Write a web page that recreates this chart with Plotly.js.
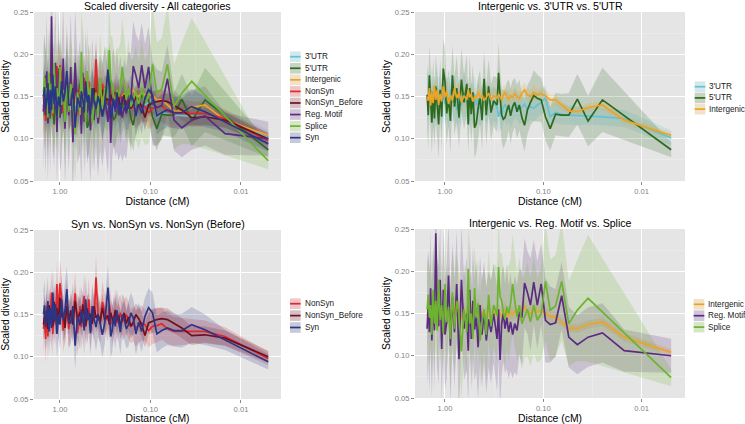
<!DOCTYPE html>
<html><head><meta charset="utf-8">
<script src="https://cdn.plot.ly/plotly-3.0.1.min.js"></script>
<style>html,body{margin:0;padding:0;background:#fff}#chart{width:745px;height:424px}</style>
</head><body><div id="chart"></div>
<script>
// ---- data ----
const distance = [0.005,0.015,0.025,0.035,0.045,0.055,0.065,0.075,0.085,0.095,
 0.105,0.115,0.125,0.135,0.145,0.155,0.165,0.175,0.185,0.195,
 0.205,0.215,0.225,0.235,0.245,0.255,0.265,0.275,0.285,0.295,
 0.32,0.34,0.36,0.38,0.40,0.42,0.44,0.46,0.48,0.50,
 0.52,0.54,0.56,0.58,0.60,0.64,0.68,0.72,0.76,0.80,
 0.84,0.88,0.92,0.96,1.00,1.04,1.08,1.12,1.16,1.20,
 1.24,1.28,1.32,1.36,1.40,1.44,1.48,1.52];

const categories = ["3'UTR","5'UTR","Intergenic","NonSyn","NonSyn_Before","Reg. Motif","Splice","Syn"];

const utr3 = [0.101,0.124,0.126,0.127,0.127,0.128,0.129,0.131,0.126,0.148,
 0.143,0.140,0.136,0.138,0.135,0.141,0.137,0.134,0.139,0.142,
 0.136,0.131,0.138,0.135,0.141,0.137,0.129,0.133,0.126,0.138,
 0.142,0.136,0.146,0.139,0.150,0.141,0.135,0.147,0.140,0.153,
 0.138,0.145,0.136,0.149,0.142,0.155,0.139,0.147,0.134,0.151,
 0.143,0.158,0.137,0.149,0.141,0.156,0.136,0.152,0.144,0.160,
 0.139,0.150,0.135,0.157,0.146,0.141,0.153,0.148];
const utr3_ci = [0.009,0.010,0.010,0.010,0.011,0.011,0.012,0.012,0.013,0.015,
 0.014,0.015,0.016,0.015,0.017,0.016,0.018,0.017,0.016,0.018,
 0.017,0.019,0.018,0.020,0.019,0.018,0.021,0.020,0.019,0.021,
 0.020,0.022,0.021,0.020,0.023,0.022,0.021,0.024,0.022,0.023,
 0.024,0.022,0.025,0.023,0.024,0.026,0.024,0.025,0.023,0.026,
 0.025,0.027,0.024,0.026,0.025,0.028,0.026,0.025,0.027,0.026,
 0.028,0.026,0.027,0.029,0.026,0.028,0.027,0.029];

const utr5 = [0.087,null,0.146,0.121,0.147,0.128,0.128,0.129,0.112,0.126,
 0.146,0.148,0.151,0.143,0.134,0.116,0.125,0.140,0.132,0.143,
 0.138,0.127,0.140,0.133,0.125,0.123,0.128,0.150,0.178,0.140,
 0.145,0.131,0.162,0.128,0.171,0.122,0.150,0.136,0.118,0.113,
 0.155,0.129,0.160,0.117,0.165,0.143,0.170,0.125,0.160,0.138,
 0.175,0.121,0.148,0.130,0.168,0.183,0.126,0.158,0.117,0.141,
 0.162,0.124,0.155,0.119,0.146,0.175,0.128,0.152];
const utr5_ci = [0.009,null,0.038,0.030,0.030,0.026,0.025,0.025,0.026,0.028,
 0.026,0.028,0.030,0.027,0.029,0.031,0.028,0.030,0.032,0.029,
 0.031,0.033,0.030,0.034,0.032,0.035,0.031,0.033,0.036,0.032,
 0.030,0.034,0.032,0.036,0.033,0.035,0.031,0.037,0.034,0.036,
 0.033,0.035,0.038,0.034,0.036,0.032,0.037,0.035,0.039,0.034,
 0.036,0.038,0.034,0.037,0.040,0.035,0.038,0.036,0.039,0.037,
 0.038,0.035,0.040,0.037,0.039,0.036,0.041,0.038];

const intergenic = [0.104,0.122,0.140,0.137,0.132,0.133,0.140,0.146,0.146,0.151,
 0.153,0.152,0.155,0.150,0.152,0.158,0.154,0.148,0.150,0.153,
 0.149,0.151,0.147,0.150,0.155,0.152,0.146,0.150,0.153,0.148,
 0.151,0.146,0.154,0.149,0.145,0.152,0.148,0.156,0.147,0.150,
 0.144,0.153,0.149,0.158,0.146,0.151,0.143,0.155,0.148,0.160,
 0.145,0.152,0.141,0.157,0.149,0.162,0.144,0.153,0.140,0.158,
 0.146,0.163,0.142,0.155,0.139,0.160,0.145,0.150];
const intergenic_ci = [0.004,0.005,0.005,0.005,0.005,0.005,0.005,0.006,0.006,0.007,
 0.008,0.007,0.009,0.008,0.007,0.009,0.008,0.008,0.007,0.009,
 0.008,0.009,0.010,0.008,0.009,0.010,0.009,0.008,0.010,0.009,
 0.010,0.009,0.011,0.010,0.009,0.011,0.010,0.012,0.010,0.011,
 0.011,0.010,0.012,0.011,0.010,0.012,0.011,0.013,0.011,0.012,
 0.012,0.011,0.013,0.012,0.011,0.013,0.012,0.013,0.012,0.014,
 0.013,0.012,0.014,0.013,0.012,0.014,0.013,0.014];

const nonsyn = [0.098,0.124,0.130,0.130,0.130,0.130,0.133,0.139,0.137,0.136,
 0.131,0.138,0.140,0.137,0.134,0.139,0.136,0.143,0.150,0.145,
 0.141,0.152,0.147,0.140,0.156,0.144,0.138,0.150,0.161,0.143,
 0.152,0.165,0.139,0.150,0.194,0.142,0.156,0.131,0.168,0.145,
 0.138,0.172,0.147,0.135,0.160,0.128,0.175,0.141,0.152,0.133,
 0.166,0.144,0.131,0.170,0.187,0.150,0.186,0.138,0.162,0.127,
 0.176,0.142,0.155,0.124,0.160,0.121,0.147,0.133];
const nonsyn_ci = [0.008,0.011,0.013,0.015,0.016,0.017,0.018,0.019,0.020,0.021,
 0.020,0.019,0.021,0.020,0.022,0.021,0.020,0.022,0.021,0.023,
 0.022,0.021,0.023,0.022,0.024,0.022,0.023,0.024,0.022,0.025,
 0.023,0.025,0.024,0.022,0.026,0.024,0.025,0.023,0.026,0.024,
 0.025,0.027,0.024,0.026,0.025,0.027,0.026,0.024,0.027,0.025,
 0.026,0.028,0.025,0.027,0.029,0.026,0.028,0.027,0.025,0.028,
 0.027,0.029,0.026,0.028,0.027,0.030,0.028,0.029];

const nonsynBefore = [0.100,0.122,0.126,0.125,0.134,0.140,0.144,0.145,0.144,0.142,
 0.140,0.125,0.138,0.145,0.150,0.141,0.136,0.147,0.139,0.152,
 0.144,0.137,0.149,0.143,0.155,0.140,0.146,0.152,0.138,0.149,
 0.143,0.158,0.141,0.150,0.146,0.160,0.139,0.151,0.144,0.157,
 0.136,0.149,0.162,0.140,0.153,0.145,0.166,0.138,0.155,0.142,
 0.160,0.134,0.151,0.147,0.170,0.139,0.158,0.143,0.165,0.136,
 0.152,0.147,0.161,0.133,0.155,0.144,0.150,0.138];
const nonsynBefore_ci = [0.007,0.009,0.010,0.011,0.012,0.012,0.013,0.013,0.014,0.014,
 0.013,0.014,0.015,0.014,0.013,0.015,0.014,0.016,0.015,0.014,
 0.015,0.016,0.014,0.015,0.017,0.016,0.015,0.016,0.017,0.015,
 0.016,0.017,0.015,0.016,0.018,0.017,0.016,0.017,0.018,0.016,
 0.017,0.018,0.016,0.017,0.019,0.018,0.017,0.018,0.019,0.017,
 0.018,0.019,0.017,0.018,0.020,0.018,0.019,0.018,0.020,0.019,
 0.019,0.020,0.018,0.019,0.021,0.019,0.020,0.019];

const regMotif = [0.100,0.106,0.127,0.122,0.113,0.122,0.171,0.139,0.137,0.142,
 0.185,0.160,0.187,0.160,0.175,0.186,0.145,0.152,0.130,0.138,
 0.125,0.140,0.128,0.145,0.132,0.150,0.138,0.095,0.155,0.120,
 0.150,0.128,0.143,0.118,0.152,0.125,0.160,0.110,0.147,0.131,
 0.165,0.120,0.178,0.106,0.150,0.132,0.190,0.096,0.185,0.128,
 0.170,0.112,0.195,0.140,0.125,0.178,0.108,0.190,0.135,0.150,
 0.245,0.130,0.168,0.118,0.180,0.128,0.160,0.132];
const regMotif_ci = [0.020,0.025,0.035,0.035,0.035,0.036,0.040,0.040,0.045,0.050,
 0.048,0.052,0.050,0.055,0.049,0.053,0.056,0.051,0.054,0.057,
 0.052,0.058,0.055,0.060,0.053,0.057,0.061,0.056,0.059,0.062,
 0.058,0.061,0.057,0.063,0.060,0.064,0.059,0.062,0.066,0.061,
 0.063,0.060,0.065,0.062,0.067,0.061,0.064,0.068,0.063,0.066,
 0.064,0.068,0.062,0.067,0.065,0.069,0.063,0.066,0.070,0.065,
 0.067,0.070,0.064,0.068,0.066,0.071,0.065,0.069];

const splice = [0.074,null,null,0.168,0.154,0.138,0.188,0.159,0.154,0.188,
 0.150,0.142,0.160,0.140,0.155,0.147,0.138,0.160,0.146,0.165,
 0.185,0.162,0.150,0.158,0.143,0.152,0.165,0.170,0.205,0.148,
 0.160,0.135,0.172,0.125,0.155,0.140,0.118,0.162,0.145,0.180,
 0.120,0.150,0.138,0.203,0.128,0.155,0.105,0.148,0.165,0.132,
 0.175,0.120,0.158,0.140,0.185,0.126,0.160,0.142,0.190,0.130,
 0.165,0.138,0.178,0.125,0.160,0.145,0.172,0.155];
const splice_ci = [0.010,null,null,0.075,0.060,0.050,0.070,0.060,0.060,0.070,
 0.055,0.050,0.058,0.052,0.056,0.049,0.054,0.057,0.051,0.055,
 0.058,0.052,0.056,0.050,0.055,0.053,0.057,0.051,0.054,0.056,
 0.050,0.054,0.052,0.056,0.049,0.053,0.055,0.051,0.054,0.052,
 0.055,0.050,0.053,0.057,0.051,0.054,0.056,0.052,0.055,0.053,
 0.052,0.056,0.050,0.054,0.057,0.051,0.055,0.053,0.056,0.052,
 0.054,0.057,0.051,0.055,0.053,0.056,0.052,0.055];

const syn = [0.094,0.120,0.132,0.138,0.131,0.131,0.134,0.131,0.127,0.152,
 0.158,0.148,0.130,0.141,0.127,0.146,0.152,0.138,0.133,0.145,
 0.150,0.129,0.142,0.155,0.136,0.147,0.131,0.124,0.158,0.182,
 0.140,0.126,0.140,0.150,0.135,0.145,0.160,0.128,0.152,0.143,
 0.168,0.131,0.147,0.156,0.137,0.149,0.113,0.160,0.140,0.140,
 0.180,0.155,0.144,0.168,0.138,0.150,0.127,0.162,0.141,0.176,
 0.134,0.158,0.130,0.166,0.145,0.135,0.161,0.150];
const syn_ci = [0.009,0.012,0.018,0.021,0.020,0.019,0.020,0.021,0.022,0.024,
 0.023,0.022,0.024,0.023,0.025,0.022,0.024,0.026,0.023,0.025,
 0.024,0.026,0.023,0.025,0.027,0.024,0.026,0.025,0.023,0.027,
 0.025,0.027,0.024,0.026,0.028,0.025,0.027,0.026,0.024,0.028,
 0.026,0.028,0.025,0.027,0.029,0.026,0.028,0.027,0.025,0.029,
 0.027,0.029,0.026,0.028,0.030,0.027,0.029,0.028,0.026,0.030,
 0.028,0.030,0.027,0.029,0.031,0.028,0.030,0.029];

const xTickVals = [1, 0.1, 0.01];
const xTickText = ['1.00', '0.10', '0.01'];
const yTickVals = [0.05, 0.10, 0.15, 0.20, 0.25];
const yTickText = ['0.05', '0.10', '0.15', '0.20', '0.25'];

const panelTitles = ['Scaled diversity - All categories', "Intergenic vs. 3'UTR vs. 5'UTR",
  'Syn vs. NonSyn vs. NonSyn (Before)', 'Intergenic vs. Reg. Motif vs. Splice'];
const panelSeries = [categories, ["3'UTR","5'UTR","Intergenic"],
  ['NonSyn','NonSyn_Before','Syn'], ['Intergenic','Reg. Motif','Splice']];

// ---- styling ----
const values = {"3'UTR":[utr3,utr3_ci], "5'UTR":[utr5,utr5_ci], 'Intergenic':[intergenic,intergenic_ci],
  'NonSyn':[nonsyn,nonsyn_ci], 'NonSyn_Before':[nonsynBefore,nonsynBefore_ci],
  'Reg. Motif':[regMotif,regMotif_ci], 'Splice':[splice,splice_ci], 'Syn':[syn,syn_ci]};
const colors = {"3'UTR":[98,195,214], "5'UTR":[45,106,31], 'Intergenic':[235,164,39], 'NonSyn':[227,38,44],
  'NonSyn_Before':[110,16,32], 'Reg. Motif':[92,43,127], 'Splice':[108,180,47], 'Syn':[43,53,133]};
const rgb = c => `rgb(${c[0]},${c[1]},${c[2]})`;
const rgba = (c,a) => `rgba(${c[0]},${c[1]},${c[2]},${a})`;

const W = 745, H = 424;
const FONT = 'Liberation Sans, Arial, Helvetica, sans-serif';
// pixel boxes of the four panels [x0,x1,y0,y1] (y from top) and x range (log units)
const boxes = [[34,281,12,181],[415,685,12,181],[34,281,230,399],[415,685,229,398]];
const xRanges = [[0.287,-2.442],[0.305,-2.442],[0.287,-2.442],[0.305,-2.442]];
const legendPos = [[290,56.7,11.57],[694.7,86.7,11.2],[290,303.7,11.9],[693.7,304.3,11.4]];

const traces = [];
const layout = {
  width: W, height: H, margin: {l:0,r:0,t:0,b:0},
  paper_bgcolor: '#ffffff', plot_bgcolor: '#e5e5e5',
  font: {family: FONT, size: 8.2, color: '#1a1a1a'},
  showlegend: false, annotations: [], shapes: []
};

boxes.forEach((b, k) => {
  const n = k + 1, sfx = k === 0 ? '' : String(n);
  const xa = 'xaxis' + sfx, ya = 'yaxis' + sfx;
  layout[xa] = {
    domain: [b[0]/W, b[1]/W], anchor: 'y' + sfx, type: 'log', range: xRanges[k],
    tickmode: 'array', tickvals: xTickVals, ticktext: xTickText,
    ticks: 'outside', ticklen: 3, tickcolor: '#8a8a8a', tickwidth: 1,
    tickfont: {size: 7.6, color: '#7f7f7f', family: FONT},
    showgrid: true, gridcolor: '#ffffff', gridwidth: 1, zeroline: false, showline: false,
    minor: {tickmode: 'array', tickvals: [0.316, 0.0316], showgrid: true, gridcolor: '#f2f2f2', gridwidth: 0.5, ticks: ''},
    title: {text: 'Distance (cM)', font: {size: 10.4, color: '#000000', family: FONT}, standoff: 2},
    fixedrange: true
  };
  layout[ya] = {
    domain: [1 - b[3]/H, 1 - b[2]/H], anchor: 'x' + sfx, range: [0.05, 0.25],
    tickmode: 'array', tickvals: yTickVals, ticktext: yTickText,
    ticks: 'outside', ticklen: 3, tickcolor: '#8a8a8a', tickwidth: 1,
    tickfont: {size: 7.6, color: '#7f7f7f', family: FONT},
    showgrid: true, gridcolor: '#ffffff', gridwidth: 1, zeroline: false, showline: false,
    minor: {tickmode: 'array', tickvals: [0.075, 0.125, 0.175, 0.225], showgrid: true, gridcolor: '#f2f2f2', gridwidth: 0.5, ticks: ''},
    title: {text: 'Scaled diversity', font: {size: 10.4, color: '#000000', family: FONT}, standoff: 2},
    fixedrange: true
  };
  // panel title
  layout.annotations.push({text: panelTitles[k], xref: 'paper', yref: 'paper',
    x: (b[0] + b[1]) / 2 / W, y: 1 - (b[2] - 6) / H, xanchor: 'center', yanchor: 'middle',
    showarrow: false, font: {size: 10.6, color: '#000000', family: FONT}});

  const names = panelSeries[k];
  // ribbons first
  names.forEach(name => {
    const [ys, ci] = values[name];
    const idx = distance.map((d, i) => i).filter(i => ys[i] !== null);
    const xs = idx.map(i => distance[i]);
    const up = idx.map(i => ys[i] + ci[i]);
    const lo = idx.map(i => ys[i] - ci[i]);
    traces.push({x: xs.concat(xs.slice().reverse()), y: up.concat(lo.reverse()),
      type: 'scatter', mode: 'lines', fill: 'toself', fillcolor: rgba(colors[name], 0.2),
      line: {width: 0, color: rgba(colors[name], 0)}, hoverinfo: 'skip', showlegend: false,
      xaxis: 'x' + sfx, yaxis: 'y' + sfx});
  });
  // lines
  names.forEach(name => {
    const [ys] = values[name];
    const idx = distance.map((d, i) => i).filter(i => ys[i] !== null);
    traces.push({x: idx.map(i => distance[i]), y: idx.map(i => ys[i]), name: name,
      type: 'scatter', mode: 'lines', line: {color: rgb(colors[name]), width: 1.7},
      showlegend: false, xaxis: 'x' + sfx, yaxis: 'y' + sfx});
  });
  // legend (ggplot style keys)
  const [lx, ly0, dy] = legendPos[k];
  names.forEach((name, j) => {
    const cy = ly0 + j * dy;
    const kx0 = lx / W, kx1 = (lx + 10.6) / W;
    const ky0 = 1 - (cy + 5.3) / H, ky1 = 1 - (cy - 5.3) / H;
    layout.shapes.push({type: 'rect', xref: 'paper', yref: 'paper', x0: kx0, x1: kx1, y0: ky0, y1: ky1,
      fillcolor: '#f2f2f2', line: {width: 0}});
    layout.shapes.push({type: 'rect', xref: 'paper', yref: 'paper', x0: kx0, x1: kx1, y0: ky0, y1: ky1,
      fillcolor: rgba(colors[name], 0.22), line: {width: 0}});
    layout.shapes.push({type: 'line', xref: 'paper', yref: 'paper', x0: kx0, x1: kx1, y0: 1 - cy / H, y1: 1 - cy / H,
      line: {color: rgb(colors[name]), width: 1.7}});
    layout.annotations.push({text: name, xref: 'paper', yref: 'paper', x: (lx + 12.5) / W, y: 1 - cy / H,
      xanchor: 'left', yanchor: 'middle', showarrow: false, font: {size: 8.2, color: '#1a1a1a', family: FONT}});
  });
});

Plotly.newPlot('chart', traces, layout, {staticPlot: true, displayModeBar: false});
</script>
</body></html>
